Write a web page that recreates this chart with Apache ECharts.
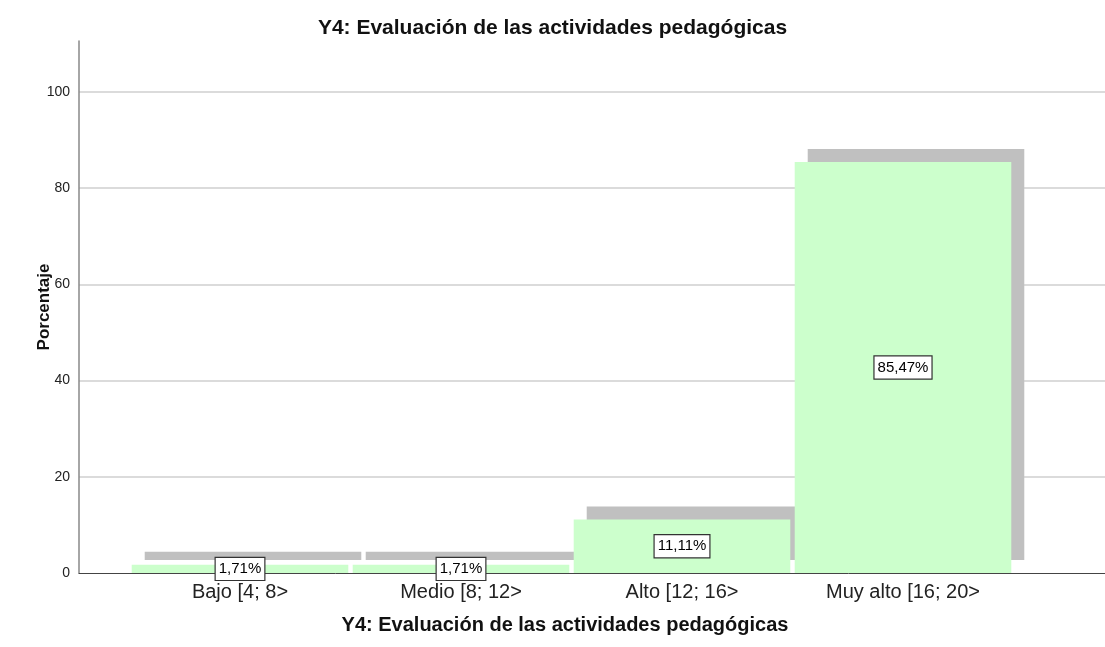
<!DOCTYPE html>
<html>
<head>
<meta charset="utf-8">
<script src="https://cdn.jsdelivr.net/npm/echarts@6/dist/echarts.min.js"></script>
<style>
    html, body { margin: 0; padding: 0; background: #fff; }
    #chart { width: 1105px; height: 647px; }
</style>
</head>
<body>
<div id="chart"></div>
<script>
// datos del grafico
var categorias = ['Bajo [4; 8>', 'Medio [8; 12>', 'Alto [12; 16>', 'Muy alto [16; 20>'];
var porcentajes = [1.71, 1.71, 11.11, 85.47];
var tituloTexto = 'Y4: Evaluación de las actividades pedagógicas';
var ejeY = 'Porcentaje';

var fuente = '"Liberation Sans", Arial, sans-serif';
var yMax = 110.6;

function formatoPct(v) {
    return v.toFixed(2).replace('.', ',') + '%';
}

var chart = echarts.init(document.getElementById('chart'));
var option = {
    animation: false,
    title: [{
        text: tituloTexto,
        left: 'center',
        top: 13,
        textStyle: { fontFamily: fuente, fontSize: 21, fontWeight: 'bold', color: '#111' }
    }, {
        text: tituloTexto,
        left: 560,
        textAlign: 'center',
        top: 610,
        textStyle: { fontFamily: fuente, fontSize: 20, fontWeight: 'bold', color: '#111' }
    }],
    grid: [
        // marco con ejes y lineas de rejilla
        { left: 79, right: 0, top: 41, bottom: 74 },
        // zona de las barras
        { left: 129.5, right: 91.5, top: 41, bottom: 74 }
    ],
    xAxis: [{
        gridIndex: 0,
        type: 'value',
        min: 0,
        max: 1,
        axisLine: { lineStyle: { color: '#444', width: 1 } },
        axisTick: { show: false },
        axisLabel: { show: false },
        splitLine: { show: false }
    }, {
        gridIndex: 1,
        type: 'category',
        data: categorias,
        axisLine: { show: false },
        axisTick: { show: false },
        axisLabel: {
            margin: 9,
            fontFamily: fuente,
            fontSize: 20,
            color: '#222'
        }
    }],
    yAxis: [{
        gridIndex: 0,
        type: 'value',
        min: 0,
        max: yMax,
        interval: 20,
        name: ejeY,
        nameLocation: 'middle',
        nameGap: 26,
        nameMoveOverlap: false,
        nameTextStyle: { fontFamily: fuente, fontSize: 17, fontWeight: 'bold', color: '#111' },
        axisLine: { show: true, lineStyle: { color: '#888', width: 1.5 } },
        axisTick: { show: false },
        axisLabel: {
            showMaxLabel: false,
            margin: 9,
            fontFamily: fuente,
            fontSize: 14,
            color: '#222'
        },
        splitLine: {
            show: true,
            showMinLine: false,
            showMaxLine: false,
            lineStyle: { color: '#cfcfcf', width: 1.5 }
        }
    }, {
        gridIndex: 1,
        type: 'value',
        min: 0,
        max: yMax,
        show: false,
        splitLine: { show: false }
    }],
    series: [{
        type: 'bar',
        xAxisIndex: 1,
        yAxisIndex: 1,
        data: porcentajes,
        barCategoryGap: '2%',
        itemStyle: {
            color: '#ccffcc',
            shadowColor: '#c0c0c0',
            shadowBlur: 0,
            shadowOffsetX: 13,
            shadowOffsetY: -13
        },
        label: {
            show: true,
            position: 'inside',
            formatter: function (p) { return formatoPct(p.value); },
            fontFamily: fuente,
            fontSize: 15,
            color: '#000',
            backgroundColor: '#fff',
            borderColor: '#333',
            borderWidth: 1.2,
            padding: [4, 3, 3, 3]
        },
        emphasis: { disabled: true }
    }]
};
chart.setOption(option);
</script>
</body>
</html>
